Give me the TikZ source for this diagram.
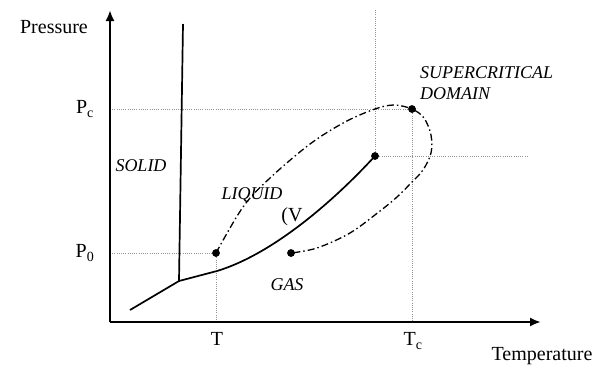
\documentclass[tikz,border=0pt]{standalone}
\usepackage{fontspec}
\setmainfont{Liberation Serif}
\usetikzlibrary{arrows.meta}
\begin{document}
\begin{tikzpicture}[x=1pt,y=-1pt,
  axis/.style={line width=2.2pt,-{Latex[length=11pt,width=9pt]}},
  phase/.style={line width=1.7pt},
  guide/.style={gray!85,line width=0.8pt,dash pattern=on 1pt off 1.2pt},
  route/.style={line width=1.3pt,dash pattern=on 7pt off 3pt on 1.5pt off 3pt},
  pt/.style={circle,fill=black,inner sep=0pt,minimum size=7.5pt},
  lab/.style={font=\fontsize{20}{24}\selectfont,inner sep=0pt},
  ilab/.style={font=\fontsize{18}{20}\selectfont\itshape,inner sep=0pt}]
\useasboundingbox (0,0) rectangle (608,368);
% axes
\coordinate (O) at (110,322);
\coordinate (ytip) at (110,10);
\coordinate (xtip) at (541,322);
% key points
\coordinate (trip) at (179,281);
\coordinate (sub0) at (130,310);
\coordinate (melt) at (183,24);
\coordinate (vap1) at (217,271);
\node[pt] (p0dot) at (216,253) {};
\node[pt] (gdot) at (291,253) {};
\node[pt] (cdot) at (375,156) {};
\node[pt] (sdot) at (412,109) {};
% guide ends
\coordinate (pcL) at (110,109);
\coordinate (p0L) at (110,253);
\coordinate (tB) at (216,322);
\coordinate (tcB) at (412,322);
\coordinate (cTop) at (375,10);
\coordinate (cR) at (529,156);
% guides
\draw[guide] (pcL) -- (sdot.center);
\draw[guide] (p0L) -- (p0dot.center);
\draw[guide] (p0dot.center) -- (tB);
\draw[guide] (sdot.center) -- (tcB);
\draw[guide] (cTop) -- (cdot.center);
\draw[guide] (cdot.center) -- (cR);
% phase boundaries
\draw[phase] (sub0) -- (trip) -- (melt);
\draw[phase] (trip) -- (vap1) .. controls (270,255) and (330,205) .. (cdot.center);
% transformation path
\draw[route] plot[smooth,tension=0.55] coordinates {(p0dot.center) (243,207) (270,178) (310,144) (345,122) (375,109) (394,105) (sdot.center) (424,118) (431,135) (431,153) (423,170) (411,183) (397,197) (380,211) (350,233) (317,248) (gdot.center)};
% axes
\draw[axis] (O) -- (ytip);
\draw[axis] (O) -- (xtip);
% redraw dots on top
\node[pt] at (p0dot) {};
\node[pt] at (gdot) {};
\node[pt] at (cdot) {};
\node[pt] at (sdot) {};
% labels
\node[lab] (press) at (54,27) {Pressure};
\node[lab] (temp) at (542,356) {Temperature};
\node[lab] (pc) at (85,109) {P\textsubscript{c}};
\node[lab] (pz) at (85,253) {P\textsubscript{0}};
\node[lab] (tl) at (217,339) {T};
\node[lab] (tcl) at (413,341) {T\textsubscript{c}};
\node[ilab] (solid) at (141,166) {SOLID};
\node[ilab] (liq) at (252,195) {LIQUID};
\node[lab] (vap) at (292,217) {(V};
\node[ilab] (gas) at (287,285) {GAS};
\node[ilab,anchor=west] (sc1) at (420,73) {SUPERCRITICAL};
\node[ilab,anchor=west] (sc2) at (420,94) {DOMAIN};
\end{tikzpicture}
\end{document}
